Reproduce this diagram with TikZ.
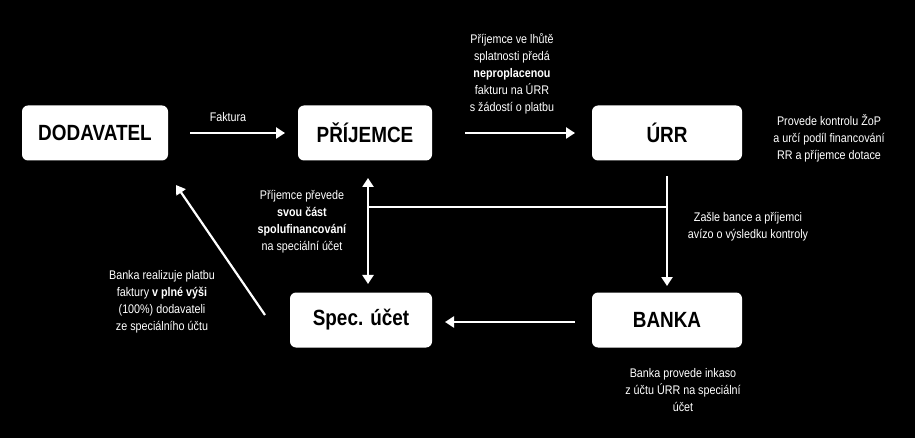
\documentclass[tikz,border=0pt]{standalone}
\usepackage{fontspec}
\setmainfont{Liberation Sans}[FakeStretch=0.86]
\usetikzlibrary{arrows.meta}
\begin{document}
\begin{tikzpicture}[x=1pt,y=-1pt,
  box/.style={fill=white,rounded corners=6pt,minimum height=55pt,font=\fontsize{22}{24}\selectfont\bfseries,text=black},
  lbl/.style={text=white,align=center,font=\fontsize{12.5}{17}\selectfont},
  arr/.style={draw=white,line width=2.2pt,-{Triangle[length=9pt,width=11pt]}}]
\fill[black] (0,0) rectangle (915,438);
\node[box,minimum width=146pt] (dod) at (95,133) {DODAVATEL};
\node[box,minimum width=134pt] (pri) at (365,133) {PŘÍJEMCE};
\node[box,minimum width=150pt] (urr) at (667,133) {ÚRR};
\node[box,minimum width=142pt] (spec) at (361,320) {Spec. účet};
\node[box,minimum width=150pt] (bank) at (667,320) {BANKA};
\coordinate (b1) at (667,207);
\coordinate (b2) at (368,207);
\coordinate (ptop) at (368,178);
\coordinate (pbot) at (368,284);
\coordinate (d1) at (265,315);
\coordinate (d2) at (176,185);
\draw[arr] (190,133) -- (285,133);
\draw[arr] (465,133) -- (575,133);
\draw[arr] (667,176) -- (667,286);
\draw[draw=white,line width=2.2pt] (b1) -- (b2);
\draw[arr,{Triangle[length=9pt,width=11pt]}-{Triangle[length=9pt,width=11pt]}] (ptop) -- (pbot);
\draw[arr] (575,322) -- (445,322);
\draw[arr] (d1) -- (d2);
\node[lbl] at (228,117) {Faktura};
\node[lbl] at (512,74) {Příjemce ve lhůtě\\splatnosti předá\\\textbf{neproplacenou}\\fakturu na ÚRR\\s žádostí o platbu};
\node[lbl] at (829,138) {Provede kontrolu ŽoP\\a určí podíl financování\\RR a příjemce dotace};
\node[lbl] at (748,227) {Zašle bance a příjemci\\avízo o výsledku kontroly};
\node[lbl] at (302,222) {Příjemce převede\\\textbf{svou část}\\\textbf{spolufinancování}\\na speciální účet};
\node[lbl] at (162,302) {Banka realizuje platbu\\faktury \textbf{v plné výši}\\(100\%) dodavateli\\ze speciálního účtu};
\node[lbl] at (683,390) {Banka provede inkaso\\z účtu ÚRR na speciální\\účet};
\end{tikzpicture}
\end{document}
